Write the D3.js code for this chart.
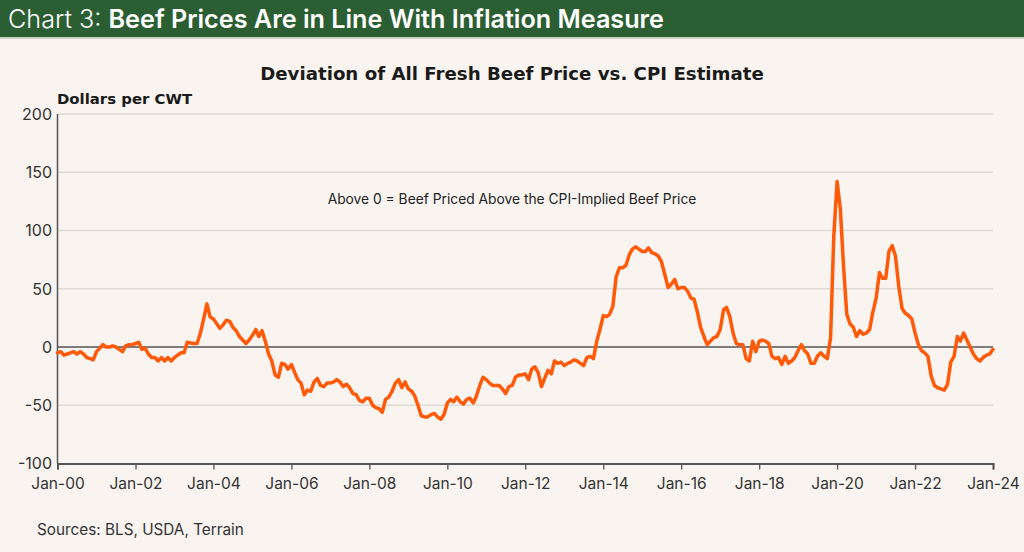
<!DOCTYPE html>
<html>
<head>
<meta charset="utf-8">
<script src="https://cdn.jsdelivr.net/npm/d3@7"></script>
<style>
  html, body { margin: 0; padding: 0; background: #f9f4f0; }
  svg { display: block; }
</style>
</head>
<body>
<svg id="chart" width="1024" height="552"></svg>
<script>
// ---- Data (monthly deviation, $/cwt) ----
const startYear = 2000;
const v2000 = [-5,-4,-7,-6,-5,-4,-6,-4,-6,-9,-10,-11];
const v2001 = [-4,-1,2,0,0,1,0,-2,-4,1,2,2];
const v2002 = [3,4,-2,-1,-6,-9,-9,-12,-9,-12,-9,-12];
const v2003 = [-9,-7,-5,-5,4,3.5,3,3,12,24,37,26];
const v2004 = [24,20,16,19,23,22,17,14,9,6,3,6];
const v2005 = [10,15,9,14,5,-6,-12,-24,-26,-14,-15,-19];
const v2006 = [-15,-22,-28,-31,-41,-37,-38,-30,-27,-33,-34,-31];
const v2007 = [-31,-30,-28,-30,-34,-32,-35,-40,-41,-46,-47,-44];
const v2008 = [-44,-50,-52,-53,-56,-45,-43,-38,-31,-28,-35,-30];
const v2009 = [-36,-38,-42,-50,-59,-60,-60,-58,-57,-60,-62,-58];
const v2010 = [-48,-45,-47,-43,-47,-49,-45,-44,-48,-42,-33,-26];
const v2011 = [-28,-31,-33,-33,-33,-36,-40,-34,-33,-26,-24,-24];
const v2012 = [-23,-28,-19,-17,-22,-34,-27,-20,-23,-12,-14,-13];
const v2013 = [-16,-14,-13,-11,-12,-14,-16,-9,-8,-10,5,15];
const v2014 = [27,26,28,35,60,68,68,70,79,84,86,84];
const v2015 = [82,82,85,81,80,78,73,62,51,54,58,50];
const v2016 = [51,51,48,42,41,30,17,9,2,5,8,9];
const v2017 = [15,32,34,26,12,3,2,2,-10,-12,5,-4];
const v2018 = [5,6,5,3,-8,-10,-9,-15,-8,-14,-12,-9];
const v2019 = [-3,2,-3,-6,-14,-14,-8,-5,-8,-10,8,95];
const v2020 = [142,118,70,28,20,17,9,14,11,12,15,30];
const v2021 = [42,64,59,59,82,87,78,52,33,29,27,24];
const v2022 = [12,2,-3,-5,-8,-25,-33,-35,-36,-37,-32,-13];
const v2023 = [-8,9,5,12,6,0,-6,-10,-12,-9,-7,-6];
const v2024 = [-2];

const yearlyValues = [v2000,v2001,v2002,v2003,v2004,v2005,v2006,v2007,v2008,v2009,v2010,v2011,
  v2012,v2013,v2014,v2015,v2016,v2017,v2018,v2019,v2020,v2021,v2022,v2023,v2024];

const yTicks = [-100,-50,0,50,100,150,200];
const xTickYears = [2000,2002,2004,2006,2008,2010,2012,2014,2016,2018,2020,2022,2024];

const headerLight = "Chart 3: ";
const headerBold = "Beef Prices Are in Line With Inflation Measure";
const chartTitle = "Deviation of All Fresh Beef Price vs. CPI Estimate";
const yAxisTitle = "Dollars per CWT";
const annotation = "Above 0 = Beef Priced Above the CPI-Implied Beef Price";
const sourceText = "Sources: BLS, USDA, Terrain";

// ---- Build series ----
const series = [];
yearlyValues.forEach((arr, yi) => {
  arr.forEach((v, mi) => series.push({ date: new Date(startYear + yi, mi, 1), value: v }));
});

const svg = d3.select("#chart");
const font = "Inter, 'Open Sans', 'DejaVu Sans', sans-serif";
const wideBold = "'DejaVu Sans', Inter, sans-serif";

svg.append("rect").attr("x",0).attr("y",0).attr("width",1024).attr("height",552).attr("fill","#f9f4f0");

// Header band
svg.append("rect").attr("x",0).attr("y",0).attr("width",1024).attr("height",37).attr("fill","#2c5e33");
svg.append("rect").attr("x",0).attr("y",37).attr("width",1024).attr("height",2).attr("fill","#c9d3c2");
const ht = svg.append("text").attr("x",8).attr("y",27.5)
  .attr("font-family","Inter, Roboto, sans-serif").attr("font-size",25.2).attr("fill","#ffffff");
ht.append("tspan").attr("font-weight",300).text(headerLight);
ht.append("tspan").attr("font-weight",600).text(headerBold);

// Scales
const x = d3.scaleTime().domain([new Date(2000,0,1), new Date(2024,0,1)]).range([57.5, 993]);
const y = d3.scaleLinear().domain([-100, 200]).range([463.5, 114]);

// Gridlines
svg.append("g").selectAll("line").data(yTicks.filter(t => t !== 0 && t !== -100)).join("line")
  .attr("x1", 57.5).attr("x2", 993).attr("y1", d => y(d)).attr("y2", d => y(d))
  .attr("stroke", "#dedad6").attr("stroke-width", 1.5);

// Y axis labels
svg.append("g").selectAll("text").data(yTicks).join("text")
  .attr("x", 52).attr("y", d => y(d)).attr("dy", "0.36em").attr("text-anchor","end")
  .attr("font-family", font).attr("font-size", 16).attr("fill", "#333")
  .text(d => d);

// Zero line
svg.append("line").attr("x1",57.5).attr("x2",993).attr("y1",y(0)).attr("y2",y(0))
  .attr("stroke","#555").attr("stroke-width",1.3);

// Left axis line
svg.append("line").attr("x1",57.5).attr("x2",57.5).attr("y1",y(200)).attr("y2",y(-100))
  .attr("stroke","#555").attr("stroke-width",1.5);

// Bottom axis
const xAxis = d3.axisBottom(x)
  .tickValues(xTickYears.map(yr => new Date(yr,0,1)))
  .tickFormat(d => "Jan-" + d3.timeFormat("%y")(d))
  .tickSize(6).tickPadding(8);
const gx = svg.append("g").attr("transform", `translate(0,${y(-100)})`).call(xAxis);
gx.select(".domain").attr("stroke","#555").attr("stroke-width",2);
gx.selectAll(".tick line").attr("stroke","#555").attr("stroke-width",1.3);
gx.selectAll(".tick text").attr("font-family", font).attr("font-size", 15.5).attr("fill","#333");

// Line
const line = d3.line().x(d => x(d.date)).y(d => y(d.value)).curve(d3.curveLinear);
svg.append("path").datum(series).attr("d", line)
  .attr("fill","none").attr("stroke","#ff5a0a").attr("stroke-width",3.5)
  .attr("stroke-linejoin","round").attr("stroke-linecap","round");

// Titles & texts
svg.append("text").attr("x",512).attr("y",80).attr("text-anchor","middle")
  .attr("font-family", wideBold).attr("font-weight",700).attr("font-size",18.2).attr("fill","#1a1a1a")
  .text(chartTitle);
svg.append("text").attr("x",57).attr("y",104)
  .attr("font-family", wideBold).attr("font-weight",700).attr("font-size",14.9).attr("fill","#1a1a1a")
  .text(yAxisTitle);
svg.append("text").attr("x",512).attr("y",204).attr("text-anchor","middle")
  .attr("font-family", font).attr("font-size",13.8).attr("fill","#222")
  .text(annotation);
svg.append("text").attr("x",37).attr("y",535)
  .attr("font-family", font).attr("font-size",15.3).attr("fill","#333")
  .text(sourceText);
</script>
</body>
</html>
